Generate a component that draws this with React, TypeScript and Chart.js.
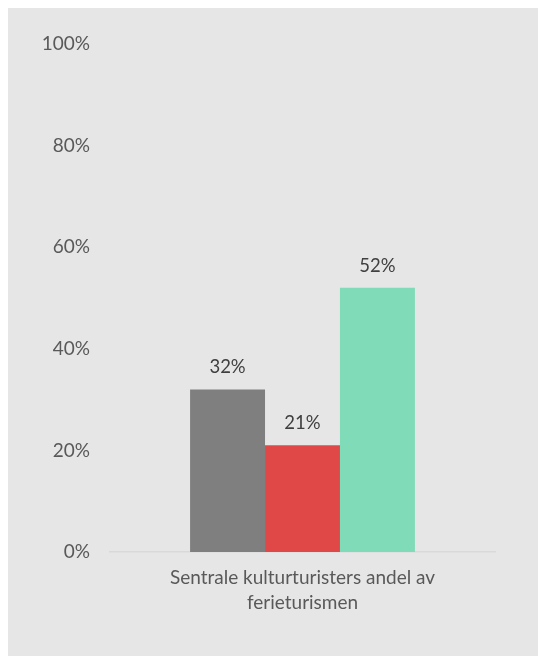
import React, { useEffect, useRef } from "react";
import { Chart, registerables } from "chart.js";

Chart.register(...registerables);

const categories: string[][] = [["Sentrale kulturturisters andel av", "ferieturismen"]];
const seriesNames = ["Serie 1", "Serie 2", "Serie 3"];
const seriesValues = [[32], [21], [52]];
const seriesColors = ["#7f7f7f", "#e04848", "#80dcb8"];
const yTicks = [0, 20, 40, 60, 80, 100];

const FONT = "Lato, 'Open Sans', sans-serif";

const valueLabels = {
  id: "valueLabels",
  afterDatasetsDraw(chart: any) {
    const ctx = chart.ctx;
    ctx.save();
    ctx.font = `18.5px ${FONT}`;
    ctx.fillStyle = "#404040";
    ctx.textAlign = "center";
    ctx.textBaseline = "bottom";
    chart.data.datasets.forEach((ds: any, i: number) => {
      const meta = chart.getDatasetMeta(i);
      meta.data.forEach((el: any, j: number) => {
        ctx.fillText(`${ds.data[j]}%`, el.x, el.y - 13);
      });
    });
    ctx.restore();
  },
};

export default function App() {
  const ref = useRef<HTMLCanvasElement | null>(null);
  useEffect(() => {
    if (!ref.current) return;
    const chart = new Chart(ref.current, {
      type: "bar",
      data: {
        labels: categories,
        datasets: seriesNames.map((name, i) => ({
          label: name,
          data: seriesValues[i],
          backgroundColor: seriesColors[i],
          borderWidth: 0,
          categoryPercentage: 0.584,
          barPercentage: 1,
        })),
      },
      options: {
        animation: false,
        responsive: true,
        maintainAspectRatio: false,
        layout: { padding: { top: 36, right: 43, bottom: 0, left: 0 } },
        plugins: {
          legend: { display: false },
          tooltip: { enabled: false },
        },
        scales: {
          x: {
            grid: { display: false, drawTicks: false },
            border: { display: true, color: "#d9d9d9", width: 1.5 },
            ticks: {
              color: "#595959",
              font: { family: FONT, size: 19, lineHeight: 1.32 },
              padding: 13,
            },
            afterFit(scale: any) {
              scale.height = 104;
            },
          },
          y: {
            min: 0,
            max: 100,
            afterBuildTicks(scale: any) {
              scale.ticks = yTicks.map((v) => ({ value: v }));
            },
            grid: { display: false, drawTicks: false },
            border: { display: false },
            ticks: {
              color: "#595959",
              font: { family: FONT, size: 19 },
              padding: 20,
              callback: (v: any) => `${v}%`,
            },
            afterFit(scale: any) {
              scale.width = 102;
            },
          },
        },
      },
      plugins: [valueLabels],
    });
    return () => chart.destroy();
  }, []);
  return (
    <div
      style={{
        position: "absolute",
        left: 8,
        top: 8,
        width: 530,
        height: 648,
        background: "#e6e6e6",
      }}
    >
      <canvas ref={ref} />
    </div>
  );
}
